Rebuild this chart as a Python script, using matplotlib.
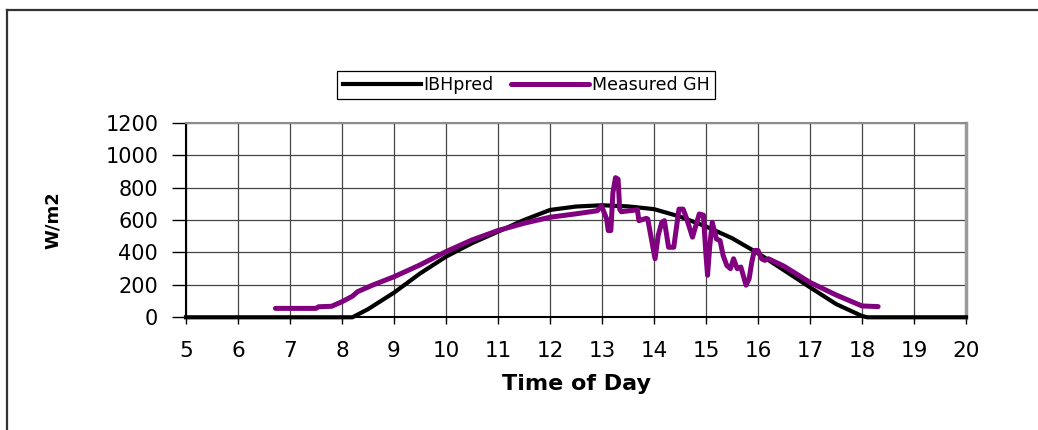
import matplotlib
matplotlib.use("Agg")
import matplotlib.pyplot as plt
from matplotlib.lines import Line2D

# ---- data ----
ibh_hours = [5, 8.2, 8.5, 9, 9.5, 10, 10.5, 11, 11.5, 12, 12.5, 13, 13.5, 14,
             14.5, 15, 15.5, 16, 16.5, 17, 17.5, 18, 18.1, 20]
ibh_values = [0, 0, 50, 152, 270, 374, 457, 528, 600, 662, 683, 691, 684, 667,
              621, 560, 488, 395, 290, 185, 82, 8, 0, 0]

gh_hours = [6.72, 7.5, 7.55, 7.8, 8.0, 8.2, 8.3, 8.6, 9.0, 9.5, 10.0, 10.5, 11.0,
            11.5, 12.0, 12.5, 12.8, 12.91, 12.99, 13.09, 13.12, 13.17, 13.21,
            13.26, 13.31, 13.34, 13.37, 13.53, 13.68, 13.71, 13.85, 13.88, 14.02,
            14.08, 14.15, 14.2, 14.28, 14.38, 14.48, 14.56, 14.62, 14.74, 14.87,
            14.95, 15.0, 15.03, 15.07, 15.12, 15.2, 15.27, 15.33, 15.4, 15.47,
            15.53, 15.6, 15.67, 15.77, 15.83, 15.88, 15.93, 16.0, 16.07, 16.13,
            16.2, 16.5, 17.0, 17.5, 18.0, 18.31]
gh_values = [55, 55, 65, 68, 96, 130, 158, 200, 250, 323, 405, 477, 535,
             580, 617, 638, 652, 657, 688, 606, 535, 535, 769,
             861, 851, 667, 651, 657, 663, 596, 610, 606, 361,
             504, 586, 596, 432, 432, 667, 667, 616, 494, 637,
             630, 381, 259, 432, 586, 483, 473, 381, 320, 300,
             361, 300, 310, 198, 239, 340, 412, 412, 361, 351,
             361, 315, 215, 138, 70, 66]

x_ticks = list(range(5, 21))
y_ticks = [0, 200, 400, 600, 800, 1000, 1200]
series_names = ["IBHpred", "Measured GH"]
x_label = "Time of Day"
y_label = "W/m2"

# ---- figure ----
W, H = 1038, 430
fig = plt.figure(figsize=(W / 100, H / 100), dpi=100)
ax = fig.add_axes([186 / W, 1 - 317.3 / H, 780 / W, 194.6 / H])

purple = "#800080"
l1, = ax.plot(ibh_hours, ibh_values, color="black", lw=3, zorder=4,
              clip_on=False, solid_joinstyle="round")
l2, = ax.plot(gh_hours, gh_values, color=purple, lw=3.6, zorder=5,
              solid_joinstyle="round", solid_capstyle="round")

ax.set_xlim(5, 20)
ax.set_ylim(0, 1200)
ax.set_xticks(x_ticks)
ax.set_yticks(y_ticks)
ax.set_xticklabels([str(t) for t in x_ticks], fontsize=15.5, family="DejaVu Sans")
ax.set_yticklabels([str(t) for t in y_ticks], fontsize=15, family="DejaVu Sans")
ax.tick_params(axis="y", direction="out", length=10, width=1, pad=10, colors="black")
ax.tick_params(axis="x", direction="out", length=5, width=1, pad=12, colors="black")

ax.grid(True, color="#454545", lw=0.9)
ax.set_axisbelow(True)

for side in ["left", "bottom"]:
    ax.spines[side].set_color("black")
    ax.spines[side].set_linewidth(1.5)
ax.spines["top"].set_color("#8c8c8c")
ax.spines["top"].set_linewidth(1.5)
ax.spines["right"].set_color("#9a9a9a")
ax.spines["right"].set_linewidth(2.5)

ax.set_xlabel(x_label, fontsize=16, fontweight="bold", family="DejaVu Sans")
ax.xaxis.set_label_coords(0.5, -(374 - 317.3) / 194.6)
ax.set_ylabel(y_label, fontsize=13, fontweight="bold", family="DejaVu Sans")
ax.yaxis.set_label_coords((62 - 186) / 780, 0.5)

leg = fig.legend([l1, l2], series_names, ncol=2, loc="center",
                 bbox_to_anchor=(526 / W, 1 - 85 / H),
                 bbox_transform=fig.transFigure,
                 fancybox=False, framealpha=1, edgecolor="black",
                 prop={"family": "DejaVu Sans", "size": 12.5},
                 handlelength=4.5, handletextpad=0.15, columnspacing=1.0,
                 borderpad=0.3, borderaxespad=0)
leg.get_frame().set_linewidth(0.9)

# outer chart border (top and left)
fig.add_artist(Line2D([6.5 / W, 1], [1 - 9.5 / H, 1 - 9.5 / H],
                      transform=fig.transFigure, color="#333333", lw=1.6))
fig.add_artist(Line2D([6.5 / W, 6.5 / W], [0, 1 - 9.5 / H],
                      transform=fig.transFigure, color="#333333", lw=1.6))

fig.savefig("out.png", dpi=100)
